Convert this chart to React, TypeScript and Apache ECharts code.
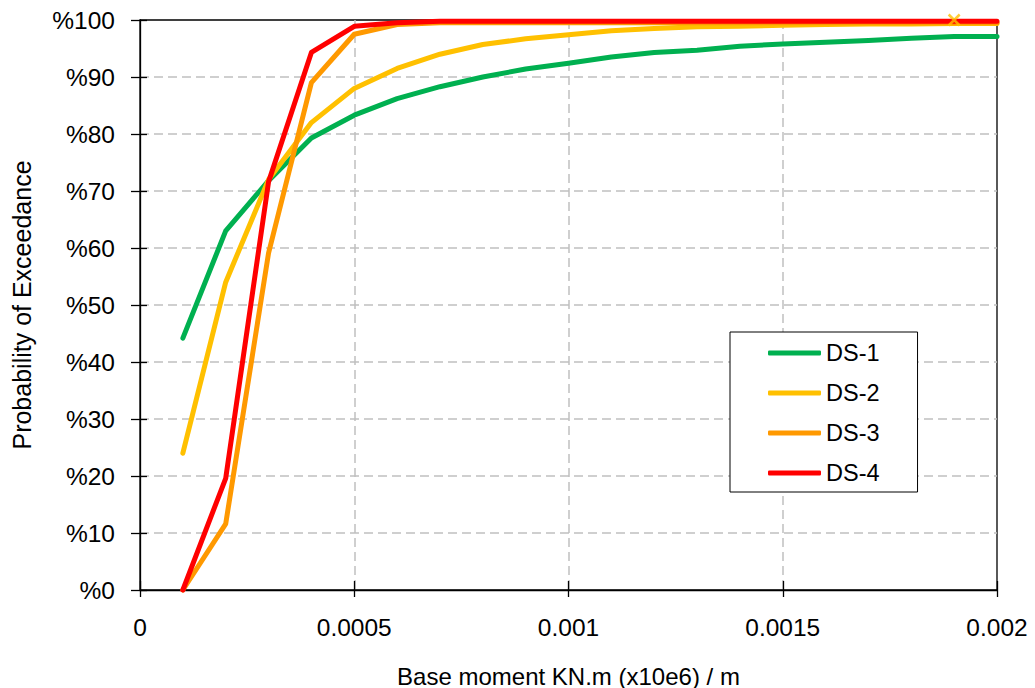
import React, { useEffect, useRef } from "react";
import * as echarts from "echarts";

const xValues = [
  0.0001, 0.0002, 0.0003, 0.0004, 0.0005, 0.0006, 0.0007, 0.0008, 0.0009, 0.001,
  0.0011, 0.0012, 0.0013, 0.0014, 0.0015, 0.0016, 0.0017, 0.0018, 0.0019, 0.002,
];
const ds1 = [44.2, 63.0, 71.8, 79.3, 83.3, 86.2, 88.3, 90.0, 91.4, 92.4, 93.5, 94.3, 94.7, 95.4, 95.8, 96.1, 96.4, 96.8, 97.1, 97.1];
const ds2 = [24.0, 54.0, 72.0, 82.0, 88.0, 91.5, 94.0, 95.7, 96.7, 97.4, 98.1, 98.5, 98.8, 98.9, 99.1, 99.2, 99.3, 99.3, 99.4, 99.4];
const ds3 = [0, 11.6, 59.1, 89.0, 97.5, 99.2, 99.5, 99.5, 99.5, 99.5, 99.5, 99.5, 99.5, 99.5, 99.5, 99.5, 99.5, 99.5, 99.5, 99.5];
const ds4 = [0, 19.6, 71.6, 94.3, 98.9, 99.5, 99.8, 99.8, 99.8, 99.8, 99.8, 99.8, 99.8, 99.8, 99.8, 99.8, 99.8, 99.8, 99.8, 99.8];
const markerPoint = [[0.0019, 100]];

const seriesNames = ["DS-1", "DS-2", "DS-3", "DS-4"];
const seriesColors = ["#00B050", "#FFC000", "#FF9900", "#FF0000"];
const seriesData = [ds1, ds2, ds3, ds4];

const FONT = "Liberation Sans, Arial, sans-serif";

export default function App() {
  const ref = useRef<HTMLDivElement>(null);
  useEffect(() => {
    if (!ref.current) return;
    const chart = echarts.init(ref.current, undefined, { renderer: "svg" });
    const tickFmt = (v: number) => String(parseFloat(v.toFixed(6)));
    const gridLine = {
      show: true,
      showMinLine: false,
      showMaxLine: false,
      lineStyle: { color: "#C0C0C0", type: [9, 5], width: 1.5 },
    };
    const option: any = {
      animation: false,
      backgroundColor: "#ffffff",
      textStyle: { fontFamily: FONT },
      grid: {
        left: 140,
        right: 38,
        top: 20,
        bottom: 98,
        outerBoundsMode: "none",
        containLabel: false,
        show: true,
        borderColor: "#000",
        borderWidth: 1.3,
        backgroundColor: "transparent",
      },
      legend: {
        data: seriesNames,
        orient: "vertical",
        left: 730,
        top: 332,
        padding: [9, 38, 7, 38],
        itemGap: 16,
        itemWidth: 53,
        itemHeight: 5,
        icon: "roundRect",
        borderColor: "#000",
        borderWidth: 1,
        backgroundColor: "#fff",
        textStyle: { fontSize: 23.5, color: "#000", fontFamily: FONT },
      },
      xAxis: [
        {
          type: "value",
          min: 0,
          max: 0.002,
          interval: 0.0005,
          name: "Base moment KN.m (x10e6) / m",
          nameLocation: "middle",
          nameGap: 74,
          nameTextStyle: { fontSize: 24, color: "#000", fontFamily: FONT },
          axisLine: { show: true, onZero: false, lineStyle: { color: "#000", width: 1.3 } },
          axisTick: { show: true, length: 7, lineStyle: { color: "#000", width: 1.3 } },
          axisLabel: { formatter: tickFmt, fontSize: 24.5, color: "#000", margin: 25, fontFamily: FONT },
          splitLine: gridLine,
        },
        {
          type: "value",
          min: 0,
          max: 0.002,
          interval: 0.0005,
          position: "bottom",
          axisLine: { show: false },
          axisTick: { show: true, inside: true, length: 9, lineStyle: { color: "#000", width: 1.3 } },
          axisLabel: { show: false },
          splitLine: { show: false },
        },
      ],
      yAxis: [
        {
          type: "value",
          min: 0,
          max: 100,
          interval: 10,
          name: "Probability of Exceedance",
          nameLocation: "middle",
          nameGap: 106,
          nameTextStyle: { fontSize: 25, color: "#000", fontFamily: FONT },
          axisLine: { show: true, onZero: false, lineStyle: { color: "#000", width: 1.3 } },
          axisTick: { show: true, length: 9, lineStyle: { color: "#000", width: 1.3 } },
          axisLabel: { formatter: (v: number) => "%" + v, fontSize: 24.5, color: "#000", margin: 25, fontFamily: FONT },
          splitLine: gridLine,
        },
        {
          type: "value",
          min: 0,
          max: 100,
          interval: 10,
          position: "left",
          axisLine: { show: false },
          axisTick: { show: true, inside: true, length: 7, lineStyle: { color: "#000", width: 1.3 } },
          axisLabel: { show: false },
          splitLine: { show: false },
        },
      ],
      series: [
        ...seriesNames.map((name, i) => ({
          name,
          type: "line",
          xAxisIndex: 0,
          yAxisIndex: 0,
          data: xValues.map((x, j) => [x, seriesData[i][j]]),
          symbol: "none",
          color: seriesColors[i],
          itemStyle: { color: seriesColors[i] },
          lineStyle: { color: seriesColors[i], width: 5, cap: "round", join: "round" },
          clip: false,
        })),
        {
          name: "marker",
          type: "scatter",
          xAxisIndex: 0,
          yAxisIndex: 0,
          data: markerPoint,
          symbol: "path://M0,0L10,10M10,0L0,10",
          symbolSize: 11,
          itemStyle: { color: "none", borderColor: "#FFC000", borderWidth: 2.5 },
          z: 5,
        },
      ],
    };
    chart.setOption(option);
    return () => chart.dispose();
  }, []);
  return (
    <div
      ref={ref}
      style={{ position: "fixed", left: 0, top: 0, width: 1035, height: 688 }}
    />
  );
}
